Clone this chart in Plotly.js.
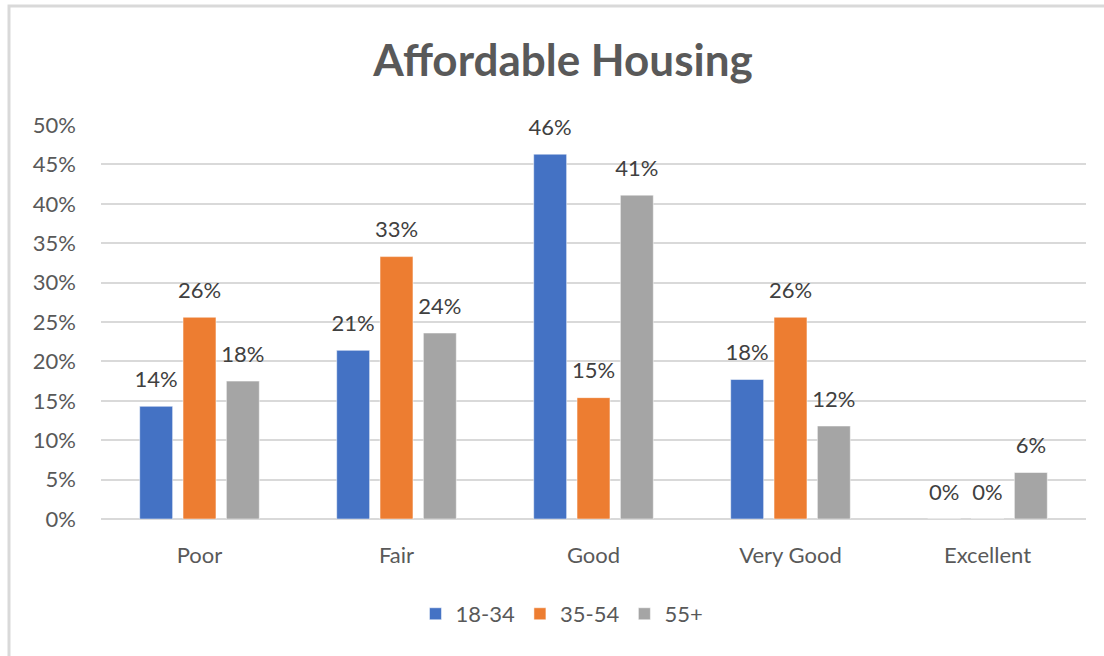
<!DOCTYPE html>
<html>
<head>
<meta charset="utf-8">
<script src="https://cdn.plot.ly/plotly-3.0.1.min.js"></script>
<style>
  html, body { margin: 0; padding: 0; background: #fff; }
  #grafico { width: 1104px; height: 656px; }
</style>
</head>
<body>
<div id="grafico"></div>
<script>
// dados
var categorias = ['Poor', 'Fair', 'Good', 'Very Good', 'Excellent'];
var grupos = ['18-34', '35-54', '55+'];
var valores1834 = [0.143, 0.214, 0.463, 0.177, 0];
var valores3554 = [0.256, 0.333, 0.154, 0.256, 0];
var valores55 = [0.175, 0.236, 0.411, 0.118, 0.059];
var cores = ['#4472C4', '#ED7D31', '#A5A5A5'];

var fonte = 'Lato, "Open Sans", sans-serif';
var corTexto = '#595959';

function serie(nome, valores, cor) {
    return {
        type: 'bar',
        name: nome,
        x: categorias,
        y: valores,
        marker: {color: cor, line: {color: 'rgba(255,255,255,0.5)', width: 1}},
        // linha vazia pequena embaixo para afastar o rótulo da barra, como no Excel
        texttemplate: '<span style="font-size:22px">%{y:.0%}</span><br> ',
        textposition: 'outside',
        constraintext: 'none',
        textfont: {family: fonte, size: 11, color: '#404040'},
        cliponaxis: false,
        hoverinfo: 'skip'
    };
}

var dados = [
    serie(grupos[0], valores1834, cores[0]),
    serie(grupos[1], valores3554, cores[1]),
    serie(grupos[2], valores55, cores[2])
];

var layout = {
    width: 1104,
    height: 656,
    margin: {l: 101, r: 18, t: 125, b: 137},
    paper_bgcolor: '#fff',
    plot_bgcolor: '#fff',
    font: {family: fonte, color: corTexto, size: 22},
    title: {
        text: '<b>Affordable Housing</b>',
        font: {family: fonte, size: 44, color: corTexto},
        x: 0.51, xanchor: 'center',
        y: 0.908, yanchor: 'middle'
    },
    barmode: 'group',
    bargap: 0.34,
    bargroupgap: 0.24,
    xaxis: {
        showgrid: false,
        showline: false,
        ticks: '',
        ticklabelstandoff: 21,
        tickfont: {family: fonte, size: 22, color: corTexto}
    },
    yaxis: {
        range: [0, 0.5],
        dtick: 0.05,
        tickformat: '.0%',
        showgrid: true,
        gridcolor: '#D9D9D9',
        gridwidth: 2,
        zeroline: true,
        zerolinecolor: '#D9D9D9',
        zerolinewidth: 2,
        showline: false,
        ticks: '',
        ticklabelstandoff: 24,
        tickfont: {family: fonte, size: 22, color: corTexto}
    },
    showlegend: true,
    legend: {
        orientation: 'h',
        x: 0.468, xanchor: 'center',
        y: -0.241, yanchor: 'middle',
        font: {family: fonte, size: 22, color: corTexto},
        traceorder: 'normal'
    },
    shapes: [{
        type: 'rect', xref: 'paper', yref: 'paper',
        x0: -0.0934, x1: 1.2, y0: -0.5, y1: 1.302,
        line: {color: '#D9D9D9', width: 3},
        fillcolor: 'rgba(0,0,0,0)',
        layer: 'below'
    }]
};

Plotly.newPlot('grafico', dados, layout, {displayModeBar: false, staticPlot: true});
</script>
</body>
</html>
